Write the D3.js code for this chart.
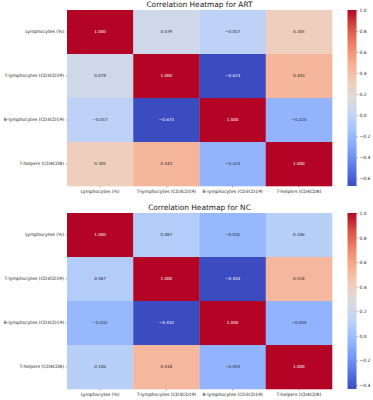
<!DOCTYPE html>
<html>
<head>
<meta charset="utf-8">
<script src="https://cdn.jsdelivr.net/npm/d3@7"></script>
<style>
  body { margin: 0; background: #fff; }
  svg { display: block; font-family: "DejaVu Sans", sans-serif; }
</style>
</head>
<body>
<script>
// variables (rows and columns share the same order)
let labels = ['Lymphocytes (%)', 'T-lymphocytes (CD3CD19)', 'B-lymphocytes (CD3CD19)', 'T-helpers (CD4CD8)'];

let artValues = [
  [1.000, 0.079, -0.017, 0.305],
  [0.079, 1.000, -0.673, 0.443],
  [-0.017, -0.673, 1.000, -0.224],
  [0.305, 0.443, -0.224, 1.000]
];
let ncValues = [
  [1.000, 0.087, -0.032, 0.106],
  [0.087, 1.000, -0.433, 0.518],
  [-0.032, -0.433, 1.000, -0.054],
  [0.106, 0.518, -0.054, 1.000]
];

let artTicks = [-0.6, -0.4, -0.2, 0.0, 0.2, 0.4, 0.6, 0.8, 1.0];
let ncTicks = [-0.4, -0.2, 0.0, 0.2, 0.4, 0.6, 0.8, 1.0];

// coolwarm stops
let coolwarm = ['#3b4cc0', '#5977e3', '#7b9ff9', '#9ebeff', '#c0d4f5', '#dddcdc',
                '#f2cbb7', '#f7ac8e', '#ee8468', '#d65244', '#b40426'];

let svgWidth = 373, svgHeight = 400;

let svg = d3.select('body').append('svg')
  .attr('width', svgWidth).attr('height', svgHeight);

function drawHeatmap(title, values, ticks, top) {
  let left = 67, right = 332, height = 176;
  let g = svg.append('g');

  let flat = values.flat();
  let vmin = d3.min(flat), vmax = d3.max(flat);

  let norm = d3.scaleLinear().domain([vmin, vmax]).range([0, 1]);
  let cmap = d3.scaleLinear()
    .domain(d3.range(coolwarm.length).map(i => i / (coolwarm.length - 1)))
    .range(coolwarm);
  let color = v => cmap(norm(v));

  let x = d3.scaleBand().domain(labels).range([left, right]);
  let y = d3.scaleBand().domain(labels).range([top, top + height]);

  let cells = [];
  values.forEach((row, i) => row.forEach((v, j) => cells.push({ r: labels[i], c: labels[j], v: v })));

  g.selectAll('rect.cell')
    .data(cells)
    .enter()
    .append('rect')
    .attr('class', 'cell')
    .attr('x', d => x(d.c))
    .attr('y', d => y(d.r))
    .attr('width', x.bandwidth() + 0.3)
    .attr('height', y.bandwidth() + 0.3)
    .attr('fill', d => color(d.v));

  // annotations
  g.selectAll('text.annot')
    .data(cells)
    .enter()
    .append('text')
    .attr('class', 'annot')
    .attr('x', d => x(d.c) + x.bandwidth() / 2)
    .attr('y', d => y(d.r) + y.bandwidth() / 2)
    .attr('dy', '0.35em')
    .attr('text-anchor', 'middle')
    .attr('font-size', 4.1)
    .attr('fill', d => {
      let c = d3.rgb(color(d.v));
      let lum = 0.2126 * c.r + 0.7152 * c.g + 0.0722 * c.b;
      return lum < 128 ? '#ffffff' : '#262626';
    })
    .text(d => d3.format('.3f')(d.v));

  // axes
  let xAxis = g.append('g')
    .attr('transform', 'translate(0,' + (top + height) + ')')
    .call(d3.axisBottom(x).tickSize(1.5).tickPadding(2));
  let yAxis = g.append('g')
    .attr('transform', 'translate(' + left + ',0)')
    .call(d3.axisLeft(y).tickSize(1.5).tickPadding(1.5));
  [xAxis, yAxis].forEach(a => {
    a.select('.domain').remove();
    a.selectAll('line').attr('stroke', '#333').attr('stroke-width', 0.4);
    a.selectAll('text').attr('font-size', 4.5).attr('fill', '#222')
      .attr('font-family', '"DejaVu Sans", sans-serif');
  });

  // title
  g.append('text')
    .attr('x', (left + right) / 2)
    .attr('y', top - 3)
    .attr('text-anchor', 'middle')
    .attr('font-size', 7.4)
    .attr('fill', '#222')
    .text(title);

  // colorbar
  let cbX = 347.5, cbW = 9;
  let cy = d3.scaleLinear().domain([vmin, vmax]).range([top + height, top]);
  let defs = svg.append('defs');
  let gradId = 'grad-' + title.split(' ').pop();
  let grad = defs.append('linearGradient')
    .attr('id', gradId)
    .attr('x1', 0).attr('y1', 1).attr('x2', 0).attr('y2', 0);
  grad.selectAll('stop')
    .data(coolwarm)
    .enter()
    .append('stop')
    .attr('offset', (d, i) => i / (coolwarm.length - 1))
    .attr('stop-color', d => d);

  g.append('rect')
    .attr('x', cbX).attr('y', top)
    .attr('width', cbW).attr('height', height)
    .attr('fill', 'url(#' + gradId + ')');

  let cAxis = g.append('g')
    .attr('transform', 'translate(' + (cbX + cbW) + ',0)')
    .call(d3.axisRight(cy).tickValues(ticks).tickFormat(d3.format('.1f')).tickSize(1.5).tickPadding(1.5));
  cAxis.select('.domain').remove();
  cAxis.selectAll('line').attr('stroke', '#333').attr('stroke-width', 0.4);
  cAxis.selectAll('text').attr('font-size', 4.5).attr('fill', '#222')
    .attr('font-family', '"DejaVu Sans", sans-serif')
    .text(d => d3.format('.1f')(d).replace('-', '\u2212'));
}

drawHeatmap('Correlation Heatmap for ART', artValues, artTicks, 10);
drawHeatmap('Correlation Heatmap for NC', ncValues, ncTicks, 213);
</script>
</body>
</html>
